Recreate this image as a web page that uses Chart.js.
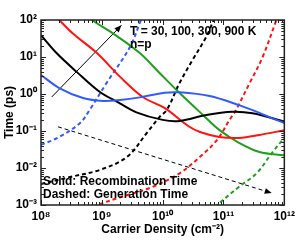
<!DOCTYPE html>
<html><head><meta charset="utf-8">
<script src="https://cdn.jsdelivr.net/npm/chart.js@4/dist/chart.umd.min.js"></script>
<style>html,body{margin:0;padding:0;background:#fff;}canvas{display:block;}</style>
</head><body>
<canvas id="c" width="299" height="240"></canvas>
<script>
// ---- axis ticks ----
const xTicks = [1e8, 1e9, 1e10, 1e11, 1e12];
const xTickLabels = ['10⁸', '10⁹', '10¹⁰', '10¹¹', '10¹²'];
const yTicks = [1e-3, 1e-2, 1e-1, 1, 10, 100];
const yTickLabels = ['10⁻³', '10⁻²', '10⁻¹', '10⁰', '10¹', '10²'];

// ---- recombination time (solid) ----
const blueRecX  = [1.0e8, 2.0e8, 4.9e8, 1.05e9, 2.0e9, 4.2e9, 1.07e10, 1.9e10, 5.9e10, 1.8e11, 3.9e11, 6.3e11, 1e12];
const blueRecY  = [3.27, 1.45, 0.78, 0.65, 0.69, 0.81, 1.08, 1.11, 0.88, 0.50, 0.31, 0.22, 0.165];
const blackRecX = [1.0e8, 1.8e8, 3.9e8, 9.3e8, 1.8e9, 3.7e9, 1.0e10, 1.9e10, 5.2e10, 1.4e11, 3.0e11, 1e12];
const blackRecY = [39, 12.8, 3.9, 1.13, 0.61, 0.32, 0.20, 0.187, 0.27, 0.33, 0.30, 0.18];
const redRecX   = [1.7e8, 2.0e8, 3.3e8, 8.3e8, 2.0e9, 4.7e9, 1.07e10, 2.75e10, 4.1e10, 8.5e10, 1.8e11, 3.9e11, 1e12];
const redRecY   = [130, 100, 44, 12.8, 2.9, 0.83, 0.42, 0.13, 0.094, 0.069, 0.065, 0.078, 0.105];
const greenRecX = [6.3e8, 6.9e8, 1.5e9, 4.2e9, 8.9e9, 1.9e10, 4.6e10, 8.5e10, 1.8e11, 3.9e11, 1e12];
const greenRecY = [130, 100, 44, 12.8, 3.7, 1.06, 0.27, 0.107, 0.048, 0.027, 0.022];

// ---- generation time (dashed) ----
const blueGenX  = [1.0e8, 2.0e8, 4.4e8, 6.3e8, 1.2e9, 2.9e9, 4.4e9, 5.0e9];
const blueGenY  = [0.042, 0.069, 0.165, 0.37, 2.0, 18.7, 100, 160];
const blackGenX = [1.0e8, 3.0e8, 9.3e8, 2.6e9, 5.5e9, 8.9e9, 1.17e10, 1.9e10, 3.1e10, 5.2e10, 6.9e10];
const blackGenY = [0.0037, 0.0057, 0.0089, 0.020, 0.089, 0.24, 0.37, 2.0, 8.3, 35, 100];
const redGenX   = [7.1e8, 8.3e8, 2.2e9, 6.2e9, 1.9e10, 4.1e10, 7.8e10, 1.26e11, 1.6e11, 2.7e11, 4.4e11, 7.4e11];
const redGenY   = [0.0009, 0.001, 0.0017, 0.0029, 0.0072, 0.020, 0.057, 0.20, 0.37, 2.0, 10, 100];
const greenGenX = [7.1e10, 7.8e10, 1.8e11, 3.5e11, 6.3e11, 1e12];
const greenGenY = [0.0009, 0.001, 0.0031, 0.0072, 0.026, 0.065];

// ---- arrows ----
const arrowSolidX  = [1.5e8, 2.1e9];
const arrowSolidY  = [0.83, 72];
const arrowDashedX = [1.9e8, 6.2e11];
const arrowDashedY = [0.13, 0.0021];

const BLUE = 'rgb(50,90,255)', RED = 'rgb(255,20,20)', GREEN = 'rgb(30,160,30)', BLACK = '#000';
const FONT = "'Liberation Sans', Arial, Helvetica, sans-serif";

function pts(xs, ys) { return xs.map((x, i) => ({x: x, y: ys[i]})); }
function curve(xs, ys, color, dashed) {
  return {data: pts(xs, ys), borderColor: color, borderWidth: 2, pointRadius: 0,
    borderDash: dashed ? [4, 3] : [], tension: 0.35, fill: false};
}
const datasets = [
  curve(blueRecX, blueRecY, BLUE, false),
  curve(blackRecX, blackRecY, BLACK, false),
  curve(redRecX, redRecY, RED, false),
  curve(greenRecX, greenRecY, GREEN, false),
  curve(blueGenX, blueGenY, BLUE, true),
  curve(blackGenX, blackGenY, BLACK, true),
  curve(redGenX, redGenY, RED, true),
  curve(greenGenX, greenGenY, GREEN, true),
  {data: pts(arrowSolidX, arrowSolidY), borderColor: BLACK, borderWidth: 1, pointRadius: 0, tension: 0, arrow: true},
  {data: pts(arrowDashedX, arrowDashedY), borderColor: BLACK, borderWidth: 1, pointRadius: 0, tension: 0, borderDash: [4, 3], arrow: true}
];

const decor = {
  id: 'decor',
  afterDatasetsDraw(chart) {
    const ctx = chart.ctx, a = chart.chartArea;
    const xs = chart.scales.x, ys = chart.scales.y;
    ctx.save();
    // arrowheads
    chart.data.datasets.forEach((ds, i) => {
      if (!ds.arrow) return;
      const m = chart.getDatasetMeta(i);
      const p0 = m.data[0], p1 = m.data[m.data.length - 1];
      const ang = Math.atan2(p1.y - p0.y, p1.x - p0.x);
      const L = 7, W = 3;
      ctx.fillStyle = BLACK;
      ctx.beginPath();
      ctx.moveTo(p1.x, p1.y);
      ctx.lineTo(p1.x - L * Math.cos(ang) + W * Math.sin(ang), p1.y - L * Math.sin(ang) - W * Math.cos(ang));
      ctx.lineTo(p1.x - L * Math.cos(ang) - W * Math.sin(ang), p1.y - L * Math.sin(ang) + W * Math.cos(ang));
      ctx.closePath();
      ctx.fill();
    });
    // inward ticks
    ctx.strokeStyle = '#222';
    ctx.lineWidth = 1;
    ctx.beginPath();
    for (let d = 8; d <= 12; d++) {
      for (let m = 1; m <= 9; m++) {
        const v = m * Math.pow(10, d);
        if (v > 1e12 * 1.0001) break;
        const px = Math.round(xs.getPixelForValue(v)) + 0.5;
        const len = m === 1 ? 5 : 3;
        ctx.moveTo(px, a.bottom); ctx.lineTo(px, a.bottom - len);
        ctx.moveTo(px, a.top); ctx.lineTo(px, a.top + len);
      }
    }
    for (let d = -3; d <= 2; d++) {
      for (let m = 1; m <= 9; m++) {
        const v = m * Math.pow(10, d);
        if (v > 100 * 1.0001) break;
        const py = Math.round(ys.getPixelForValue(v)) + 0.5;
        const len = m === 1 ? 5 : 3;
        ctx.moveTo(a.left, py); ctx.lineTo(a.left + len, py);
        ctx.moveTo(a.right, py); ctx.lineTo(a.right - len, py);
      }
    }
    ctx.stroke();
    // frame
    ctx.strokeStyle = '#222';
    ctx.lineWidth = 1.5;
    ctx.strokeRect(a.left, a.top, a.right - a.left, a.bottom - a.top);
    // annotations
    ctx.fillStyle = '#000';
    ctx.font = 'bold 12px ' + FONT;
    ctx.textAlign = 'left';
    ctx.textBaseline = 'alphabetic';
    ctx.fillText('T = 30, 100, 300, 900 K', a.left + 89, a.top + 15);
    ctx.fillText('n=p', a.left + 89, a.top + 28);
    ctx.fillText('Solid: Recombination Time', a.left + 2, a.top + 165);
    ctx.fillText('Dashed: Generation Time', a.left + 2, a.top + 178);
    ctx.restore();
  }
};

const tickFont = {family: FONT, size: 12, weight: 'bold'};
new Chart(document.getElementById('c'), {
  type: 'line',
  data: {datasets: datasets},
  options: {
    responsive: false, animation: false, devicePixelRatio: 1,
    layout: {padding: {top: 20, right: 14, left: 0, bottom: 0}},
    plugins: {legend: {display: false}, tooltip: {enabled: false}},
    scales: {
      x: {
        type: 'logarithmic', min: 1e8, max: 1e12,
        afterBuildTicks: s => { s.ticks = xTicks.map(v => ({value: v})); },
        afterFit: s => { s.height = 35; },
        grid: {display: false, drawTicks: false},
        border: {display: false},
        ticks: {autoSkip: false, maxRotation: 0, padding: 4, color: '#000', font: tickFont,
          callback: v => { const i = xTicks.indexOf(v); return i >= 0 ? xTickLabels[i] : ''; }},
        title: {display: true, text: 'Carrier Density (cm⁻²)', color: '#000', font: tickFont, padding: {top: 0, bottom: 3}}
      },
      y: {
        type: 'logarithmic', min: 1e-3, max: 100,
        afterBuildTicks: s => { s.ticks = yTicks.map(v => ({value: v})); },
        afterFit: s => { s.width = 41; },
        grid: {display: false, drawTicks: false},
        border: {display: false},
        ticks: {autoSkip: false, padding: 4, color: '#000', font: tickFont,
          callback: v => { const i = yTicks.findIndex(t => Math.abs(t - v) / t < 1e-6); return i >= 0 ? yTickLabels[i] : ''; }},
        title: {display: true, text: 'Time (ps)', color: '#000', font: tickFont, padding: {top: 2, bottom: 0}}
      }
    }
  },
  plugins: [decor]
});
</script>
</body></html>
